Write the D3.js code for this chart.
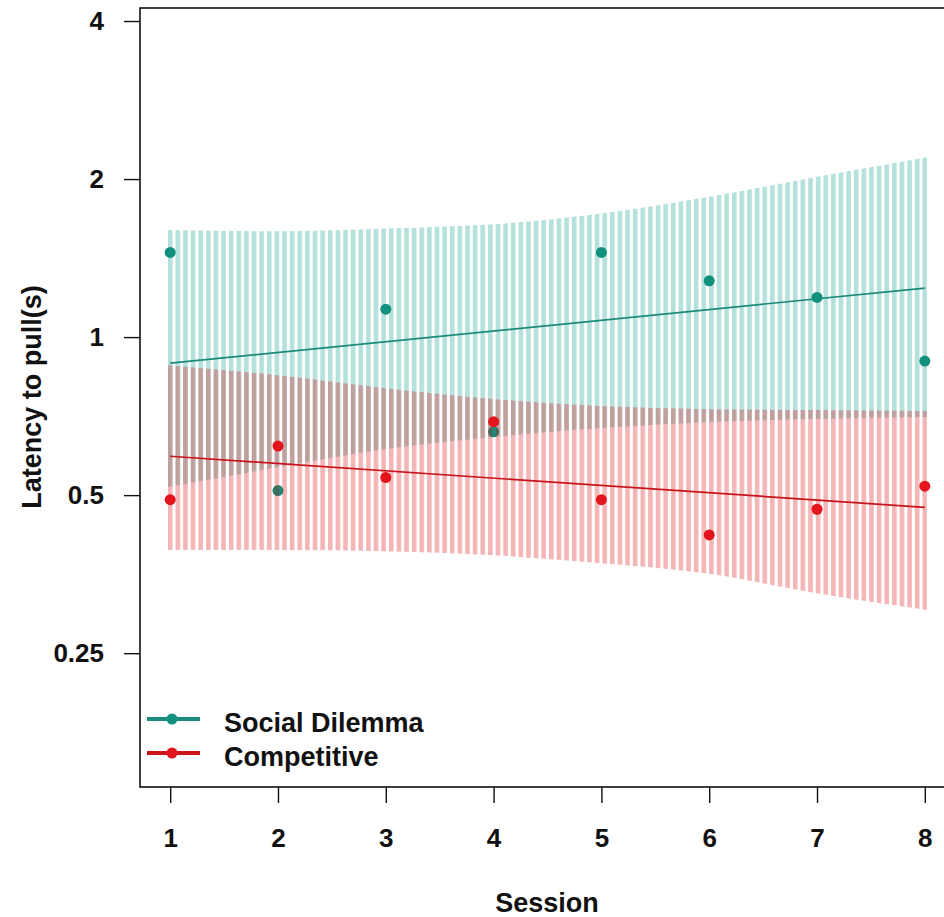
<!DOCTYPE html>
<html>
<head>
<meta charset="utf-8">
<script src="https://cdn.jsdelivr.net/npm/d3@7"></script>
<style>
  body { margin: 0; background: #fff; }
  text { font-family: "Liberation Sans", Arial, sans-serif; font-weight: bold; fill: #111; }
</style>
</head>
<body>
<svg id="svg" width="944" height="917"></svg>
<script>
// values
var sessions = [1, 2, 3, 4, 5, 6, 7, 8];
var socialLatency = [1.45, 0.51, 1.13, 0.66, 1.45, 1.28, 1.19, 0.90];
var competitiveLatency = [0.49, 0.62, 0.54, 0.69, 0.49, 0.42, 0.47, 0.52];
var fitSessions = [1, 8];
var socialFit = [0.892, 1.240];
var competitiveFit = [0.593, 0.474];
var socialUpper = [1.60, 1.59, 1.61, 1.64, 1.72, 1.85, 2.02, 2.20];
var socialLower = [0.518, 0.565, 0.612, 0.645, 0.671, 0.689, 0.698, 0.704];
var competitiveUpper = [0.884, 0.846, 0.799, 0.762, 0.739, 0.729, 0.726, 0.723];
var competitiveLower = [0.393, 0.393, 0.391, 0.384, 0.371, 0.354, 0.325, 0.302];
var yTicks = [0.25, 0.5, 1, 2, 4];
var seriesNames = ["Social Dilemma", "Competitive"];

var teal = "#12907e", red = "#e3141b";

var svg = d3.select("#svg");

var x = d3.scaleLinear().domain([0.72, 8.28]).range([140, 955]);
var y = d3.scaleLog().base(2).domain([0.139, 4.235]).range([787, 8]);

var stripe = 4.6, period = (x(8) - x(1)) / 99;
var defs = svg.append("defs");
var pattern = function(id, color) {
  var p = defs.append("pattern")
    .attr("id", id)
    .attr("patternUnits", "userSpaceOnUse")
    .attr("x", x(1) - stripe / 2)
    .attr("y", 0)
    .attr("width", period)
    .attr("height", 917);
  p.append("rect")
    .attr("width", stripe)
    .attr("height", 917)
    .attr("fill", color);
};
pattern("tealStripes", "rgba(0,150,136,0.29)");
pattern("redStripes", "rgba(218,0,8,0.29)");

var band = function(upper, lower, fill) {
  var rows = sessions.map(function(s, i) { return { s: s, hi: upper[i], lo: lower[i] }; });
  var n = rows.length;
  var area = d3.area()
    .curve(d3.curveMonotoneX)
    .x(function(d, i) { return x(d.s) + (i === 0 ? -stripe / 2 : i === n - 1 ? stripe / 2 : 0); })
    .y0(function(d) { return y(d.lo); })
    .y1(function(d) { return y(d.hi); });
  svg.append("path").datum(rows).attr("d", area).attr("fill", "url(#" + fill + ")");
};

var fitLine = function(vals, color) {
  var line = d3.line()
    .x(function(d, i) { return x(fitSessions[i]); })
    .y(function(d) { return y(d); });
  svg.append("path").datum(vals).attr("d", line)
    .attr("fill", "none").attr("stroke", color).attr("stroke-width", 1.7);
};

var points = function(vals, color) {
  svg.append("g").selectAll("circle").data(vals).enter()
    .append("circle")
    .attr("cx", function(d, i) { return x(sessions[i]); })
    .attr("cy", function(d) { return y(d); })
    .attr("r", 5.5)
    .attr("fill", color);
};

// social dilemma first, competitive drawn over it
band(socialUpper, socialLower, "tealStripes");
fitLine(socialFit, "#1b8a7a");
points(socialLatency, teal);
band(competitiveUpper, competitiveLower, "redStripes");
fitLine(competitiveFit, "#c8141a");
points(competitiveLatency, red);

// frame
svg.append("rect")
  .attr("x", 140).attr("y", 8)
  .attr("width", 815).attr("height", 779)
  .attr("fill", "none").attr("stroke", "#111").attr("stroke-width", 1.6);

// axes
var xAxis = d3.axisBottom(x).tickValues(sessions).tickSize(16).tickPadding(26).tickFormat(d3.format("d"));
var gx = svg.append("g").attr("transform", "translate(0,787)").call(xAxis);
gx.select(".domain").remove();
gx.selectAll("line").attr("stroke", "#111").attr("stroke-width", 1.4);
gx.selectAll("text").attr("font-size", 26).attr("font-family", null).attr("fill", "#111");

var yAxis = d3.axisLeft(y).tickValues(yTicks).tickSize(16).tickPadding(20).tickFormat(function(d) { return String(d); });
var gy = svg.append("g").attr("transform", "translate(140,0)").call(yAxis);
gy.select(".domain").remove();
gy.selectAll("line").attr("stroke", "#111").attr("stroke-width", 1.4);
gy.selectAll("text").attr("font-size", 26).attr("font-family", null).attr("fill", "#111");

svg.append("text")
  .attr("x", 547).attr("y", 912)
  .attr("text-anchor", "middle")
  .attr("font-size", 27)
  .text("Session");
svg.append("text")
  .attr("transform", "translate(41,397) rotate(-90)")
  .attr("text-anchor", "middle")
  .attr("font-size", 27)
  .text("Latency to pull(s)");

// legend
var legend = svg.append("g").selectAll("g").data(seriesNames).enter()
  .append("g")
  .attr("transform", function(d, i) { return "translate(0," + (719 + i * 34) + ")"; });
legend.append("line")
  .attr("x1", 147).attr("x2", 200)
  .attr("stroke", function(d, i) { return i === 0 ? "#1b8a7a" : "#c8141a"; })
  .attr("stroke-width", 4);
legend.append("circle")
  .attr("cx", 172).attr("r", 5.5)
  .attr("fill", function(d, i) { return i === 0 ? teal : red; });
legend.append("text")
  .attr("x", 224).attr("y", 13)
  .attr("font-size", 27)
  .text(function(d) { return d; });
</script>
</body>
</html>
